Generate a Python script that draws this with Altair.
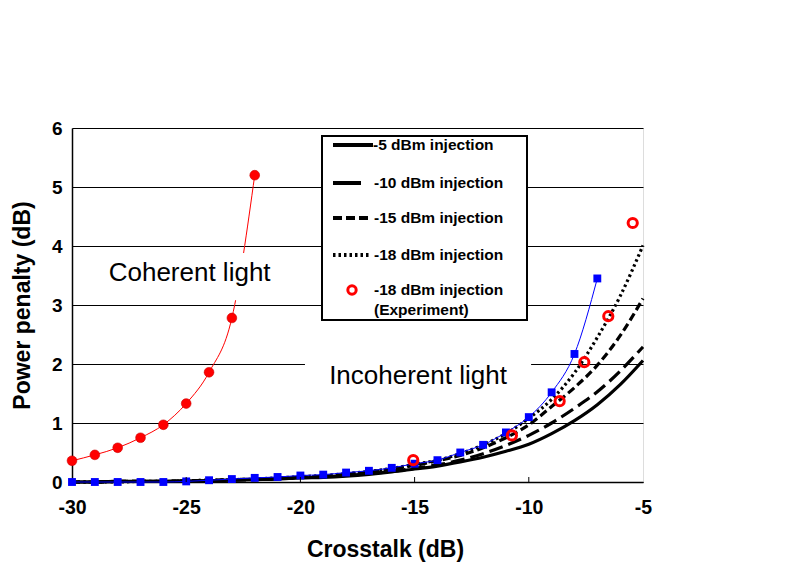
import altair as alt
import pandas as pd

# ---------------- data ----------------
coh_x = [-30, -29, -28, -27, -26, -25, -24, -23, -22]
coh_y = [0.36, 0.46, 0.58, 0.75, 0.97, 1.33, 1.86, 2.78, 5.2]

blue_x = [-30, -29, -28, -27, -26, -25, -24, -23, -22, -21, -20, -19, -18, -17,
          -16, -15, -14, -13, -12, -11, -10, -9, -8, -7]
blue_y = [0.0, 0.0, 0.0, 0.0, 0.0, 0.01, 0.03, 0.05, 0.07, 0.085, 0.11, 0.125, 0.16, 0.19,
          0.24, 0.31, 0.37, 0.50, 0.63, 0.84, 1.10, 1.52, 2.17, 3.45]

exp_x = [-15.06, -10.74, -8.65, -7.57, -6.52, -5.45]
exp_y = [0.37, 0.79, 1.37, 2.03, 2.81, 4.39]

curve_x = [-30, -29, -28, -27, -26, -25, -24, -23, -22, -21, -20, -19, -18, -17,
           -16, -15, -14, -13, -12, -11, -10, -9, -8, -7, -6, -5]
inj5_y = [0.0, 0.0, 0.01, 0.01, 0.01, 0.02, 0.02, 0.03, 0.04, 0.05, 0.07, 0.08, 0.10, 0.13,
          0.17, 0.22, 0.27, 0.34, 0.42, 0.52, 0.64, 0.82, 1.04, 1.31, 1.65, 2.06]
inj10_y = [0.0, 0.0, 0.01, 0.01, 0.01, 0.02, 0.02, 0.03, 0.04, 0.06, 0.08, 0.09, 0.11, 0.14,
           0.18, 0.23, 0.29, 0.37, 0.48, 0.62, 0.79, 1.00, 1.25, 1.53, 1.88, 2.29]
inj15_y = [0.0, 0.0, 0.01, 0.01, 0.01, 0.02, 0.03, 0.04, 0.05, 0.06, 0.08, 0.10, 0.13, 0.17,
           0.22, 0.28, 0.36, 0.45, 0.58, 0.75, 0.97, 1.28, 1.60, 1.98, 2.48, 3.11]
inj18_y = [0.0, 0.0, 0.0, 0.01, 0.01, 0.02, 0.03, 0.04, 0.05, 0.07, 0.09, 0.11, 0.14, 0.18,
           0.23, 0.30, 0.37, 0.48, 0.63, 0.82, 1.08, 1.40, 1.85, 2.45, 3.15, 4.01]

x_ticks = [-30, -25, -20, -15, -10, -5]
y_ticks = [0, 1, 2, 3, 4, 5, 6]

legend_labels = ["-5 dBm injection", "-10 dBm injection", "-15 dBm injection",
                 "-18 dBm injection", "-18 dBm injection", "(Experiment)"]

FONT = "Liberation Sans"
W, H = 571, 354

xs = alt.Scale(domain=[-30, -5], nice=False, zero=False)
ys = alt.Scale(domain=[0, 6], nice=False)

coh = pd.DataFrame({"x": coh_x, "y": coh_y})
blue = pd.DataFrame({"x": blue_x, "y": blue_y})
exp = pd.DataFrame({"x": exp_x, "y": exp_y})

X = alt.X("x:Q", scale=xs, title="Crosstalk (dB)",
          axis=alt.Axis(values=x_ticks, labelExpr="'' + datum.value", grid=False, ticks=False,
                        labelFlush=False, labelOverlap=False,
                        labelFont=FONT, labelFontSize=19.5, labelFontWeight="bold",
                        labelColor="black", labelPadding=16,
                        titleFont=FONT, titleFontSize=23, titleFontWeight="bold",
                        titleColor="black", titlePadding=22, titleX=313,
                        domainColor="black", domainWidth=1.5))
Y = alt.Y("y:Q", scale=ys, title="Power penalty (dB)",
          axis=alt.Axis(values=y_ticks, labelExpr="'' + datum.value", grid=True,
                        gridColor="black", labelFlush=False,
                        gridWidth=1.2, gridOpacity=1, ticks=False,
                        labelFont=FONT, labelFontSize=19, labelFontWeight="bold",
                        labelColor="black", labelPadding=10,
                        titleFont=FONT, titleFontSize=23, titleFontWeight="bold",
                        titleColor="black", titlePadding=17,
                        domainColor="black", domainWidth=1.5))

base_axes = alt.Chart(coh).mark_point(opacity=0).encode(x=X, y=Y)

coh_line = alt.Chart(coh).mark_line(color="#ff0000", strokeWidth=1, interpolate="monotone").encode(
    x=alt.X("x:Q", scale=xs), y=alt.Y("y:Q", scale=ys))
coh_pts = alt.Chart(coh).mark_point(shape="circle", filled=True, size=95, color="#ff0000",
                                    stroke="#cc0000", strokeWidth=0.6, opacity=1).encode(
    x=alt.X("x:Q", scale=xs), y=alt.Y("y:Q", scale=ys))

# white boxes behind annotations
box_df = pd.DataFrame({"x1": [-28.56, -19.8], "x2": [-21.02, -9.9],
                       "y1": [3.08, 1.42], "y2": [3.88, 2.12]})
boxes = alt.Chart(box_df).mark_rect(fill="white").encode(
    x=alt.X("x1:Q", scale=xs), x2="x2:Q", y=alt.Y("y1:Q", scale=ys), y2="y2:Q")

ann_df = pd.DataFrame({"x": [-24.85, -14.85], "y": [3.54, 1.79],
                       "t": ["Coherent light", "Incoherent light"]})
ann = alt.Chart(ann_df).mark_text(font=FONT, fontSize=26, color="black", align="center",
                                  baseline="middle").encode(
    x=alt.X("x:Q", scale=xs), y=alt.Y("y:Q", scale=ys), text="t:N")


def curve(yvals, dash, width=3.2):
    df = pd.DataFrame({"x": curve_x, "y": yvals})
    kw = dict(color="black", strokeWidth=width, interpolate="monotone")
    if dash:
        kw["strokeDash"] = dash
    return alt.Chart(df).mark_line(**kw).encode(
        x=alt.X("x:Q", scale=xs), y=alt.Y("y:Q", scale=ys))


c5 = curve(inj5_y, None)
c10 = curve(inj10_y, [14, 6])
c15 = curve(inj15_y, [8, 4])
c18 = curve(inj18_y, [2.5, 3])

blue_line = alt.Chart(blue).mark_line(color="#0000ff", strokeWidth=1, interpolate="monotone").encode(
    x=alt.X("x:Q", scale=xs), y=alt.Y("y:Q", scale=ys))
blue_pts = alt.Chart(blue).mark_point(shape="square", filled=True, size=62, color="#0000ff",
                                      opacity=1).encode(
    x=alt.X("x:Q", scale=xs), y=alt.Y("y:Q", scale=ys))

exp_pts = alt.Chart(exp).mark_point(shape="circle", filled=False, size=85, color="#ff0000",
                                    strokeWidth=3, opacity=1).encode(
    x=alt.X("x:Q", scale=xs), y=alt.Y("y:Q", scale=ys))

tick_df = pd.DataFrame({"x": x_ticks[1:-1]})
xticks_in = alt.Chart(tick_df).mark_rule(color="black", strokeWidth=1).encode(
    x=alt.X("x:Q", scale=xs), y=alt.value(H), y2=alt.value(H - 5))

# ---------------- manual legend ----------------
leg_box = alt.Chart(pd.DataFrame({"a": [0]})).mark_rect(
    fill="white", stroke="black", strokeWidth=2).encode(
    x=alt.value(250), x2=alt.value(455), y=alt.value(8), y2=alt.value(192))

row_y = [17, 55, 90, 127, 162, 182]


def leg_line(x1, x2, yy, dash):
    kw = dict(color="black", strokeWidth=4)
    if dash:
        kw["strokeDash"] = dash
    return alt.Chart(pd.DataFrame({"a": [0]})).mark_rule(**kw).encode(
        x=alt.value(x1), x2=alt.value(x2), y=alt.value(yy))


l1 = leg_line(261, 301, row_y[0], None)
l2 = leg_line(261, 289, row_y[1], None)
l3 = leg_line(261, 299, row_y[2], [9, 4])
l4 = leg_line(261, 297, row_y[3], [2.5, 3])
leg_circ = alt.Chart(pd.DataFrame({"a": [0]})).mark_point(
    shape="circle", filled=False, size=70, color="#ff0000", strokeWidth=3, opacity=1).encode(
    x=alt.value(280), y=alt.value(row_y[4]))

leg_df = pd.DataFrame({"t": legend_labels, "yy": row_y,
                       "xx": [301, 302, 302, 302, 302, 302]})
leg_text = alt.Chart(leg_df).mark_text(font=FONT, fontSize=15.5, fontWeight="bold",
                                       color="black", align="left", baseline="middle").encode(
    x=alt.X("xx:Q", scale=None), y=alt.Y("yy:Q", scale=None), text="t:N")

chart = alt.layer(
    base_axes, coh_line, boxes, ann, coh_pts, c5, c10, c15, c18, blue_line, blue_pts,
    exp_pts, xticks_in, leg_box, l1, l2, l3, l4, leg_circ, leg_text
).properties(
    width=W, height=H,
    autosize=alt.AutoSizeParams(type="none"),
    padding={"left": 64, "top": 120, "right": 140, "bottom": 84},
).configure_view(stroke="black", strokeWidth=1.5).configure(background="white")

chart.save("out.html", embed_options={"renderer": "svg", "actions": False})
